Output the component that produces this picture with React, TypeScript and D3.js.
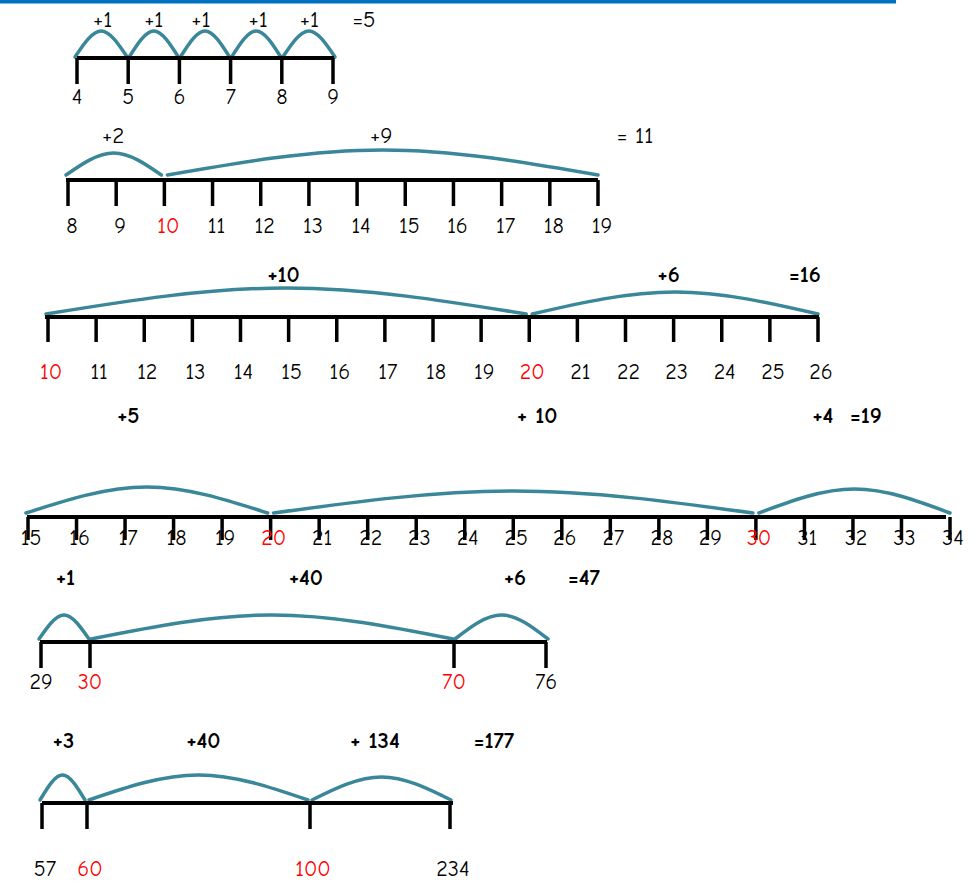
import React from "react";
import * as d3 from "d3";

// ---------- data ----------
const ticksA = [4, 5, 6, 7, 8, 9];
const jumpsA = [
  { from: 4, to: 5, text: "+1" },
  { from: 5, to: 6, text: "+1" },
  { from: 6, to: 7, text: "+1" },
  { from: 7, to: 8, text: "+1" },
  { from: 8, to: 9, text: "+1" },
];
const totalA = "=5";
const redA: number[] = [];

const ticksB = [8, 9, 10, 11, 12, 13, 14, 15, 16, 17, 18, 19];
const jumpsB = [
  { from: 8, to: 10, text: "+2" },
  { from: 10, to: 19, text: "+9" },
];
const totalB = "= 11";
const redB = [10];

const ticksC = [10, 11, 12, 13, 14, 15, 16, 17, 18, 19, 20, 21, 22, 23, 24, 25, 26];
const jumpsC = [
  { from: 10, to: 20, text: "+10" },
  { from: 20, to: 26, text: "+6" },
];
const totalC = "=16";
const redC = [10, 20];

const ticksD = [15, 16, 17, 18, 19, 20, 21, 22, 23, 24, 25, 26, 27, 28, 29, 30, 31, 32, 33, 34];
const jumpsD = [
  { from: 15, to: 20, text: "+5" },
  { from: 20, to: 30, text: "+ 10" },
  { from: 30, to: 34, text: "+4" },
];
const totalD = "=19";
const redD = [20, 30];

const ticksE = [29, 30, 70, 76];
const jumpsE = [
  { from: 29, to: 30, text: "+1" },
  { from: 30, to: 70, text: "+40" },
  { from: 70, to: 76, text: "+6" },
];
const totalE = "=47";
const redE = [30, 70];

const ticksF = [57, 60, 100, 234];
const jumpsF = [
  { from: 57, to: 60, text: "+3" },
  { from: 60, to: 100, text: "+40" },
  { from: 100, to: 234, text: "+ 134" },
];
const totalF = "=177";
const redF = [60, 100];

// ---------- layout ----------
type Jump = { from: number; to: number; text: string };
type LineCfg = {
  ticks: number[];
  jumps: Jump[];
  total: string;
  red: number[];
  range: number[];
  axisX: [number, number];
  axisY: number;
  tickLen: number;
  labelY: number;
  labelDx: number;
  labelSize: number;
  jumpY: number;
  jumpSize: number;
  jumpBold: boolean;
  jumpDx: number[];
  totalX: number;
  arcBase: number;
  arcPeak: number[];
  arcGap: number;
};

const FONT = "'Comic Sans MS', 'Comic Neue', 'DejaVu Sans', sans-serif";
const TEAL = "#3a8799";

const lines: LineCfg[] = [
  {
    ticks: ticksA, jumps: jumpsA, total: totalA, red: redA,
    range: [77, 333], axisX: [77, 334], axisY: 58, tickLen: 26,
    labelY: 97, labelDx: 0, labelSize: 22,
    jumpY: 19, jumpSize: 23, jumpBold: false, jumpDx: [0, 0, -4, 2, 2],
    totalX: 364, arcBase: 57, arcPeak: [31, 31, 31, 31, 31], arcGap: 1,
  },
  {
    ticks: ticksB, jumps: jumpsB, total: totalB, red: redB,
    range: [68, 598], axisX: [66, 598], axisY: 180, tickLen: 26,
    labelY: 226, labelDx: 4, labelSize: 22,
    jumpY: 135, jumpSize: 23, jumpBold: false, jumpDx: [-3, 0],
    totalX: 635, arcBase: 175, arcPeak: [153, 150], arcGap: 3,
  },
  {
    ticks: ticksC, jumps: jumpsC, total: totalC, red: redC,
    range: [48, 818], axisX: [45, 819], axisY: 317, tickLen: 25,
    labelY: 372, labelDx: 3, labelSize: 22,
    jumpY: 274, jumpSize: 23, jumpBold: true, jumpDx: [-5, -5],
    totalX: 805, arcBase: 314, arcPeak: [288, 292], arcGap: 3,
  },
  {
    ticks: ticksD, jumps: jumpsD, total: totalD, red: redD,
    range: [28, 950], axisX: [27, 946], axisY: 517, tickLen: 23,
    labelY: 538, labelDx: 3, labelSize: 22,
    jumpY: 415, jumpSize: 23, jumpBold: true, jumpDx: [-21, 24, -30],
    totalX: 866, arcBase: 513, arcPeak: [487, 491, 489], arcGap: 3,
  },
  {
    ticks: ticksE, jumps: jumpsE, total: totalE, red: redE,
    range: [41, 90, 454, 546], axisX: [40, 547], axisY: 642, tickLen: 26,
    labelY: 682, labelDx: 0, labelSize: 22,
    jumpY: 577, jumpSize: 23, jumpBold: true, jumpDx: [0, 34, 15],
    totalX: 584, arcBase: 639, arcPeak: [615, 615, 615], arcGap: 1,
  },
  {
    ticks: ticksF, jumps: jumpsF, total: totalF, red: redF,
    range: [42, 87, 310, 450], axisX: [42, 453], axisY: 803, tickLen: 26,
    labelY: 869, labelDx: 3, labelSize: 22,
    jumpY: 740, jumpSize: 23, jumpBold: true, jumpDx: [-1, 5, -5],
    totalX: 494, arcBase: 800, arcPeak: [775, 775, 777], arcGap: 2,
  },
];

function NumberLine({ cfg }: { cfg: LineCfg }) {
  const domain =
    cfg.range.length === 2
      ? [cfg.ticks[0], cfg.ticks[cfg.ticks.length - 1]]
      : cfg.ticks;
  const x = d3.scaleLinear().domain(domain).range(cfg.range);
  const arcLine = d3
    .line<[number, number]>()
    .x((d) => d[0])
    .y((d) => d[1])
    .curve(d3.curveNatural);
  const weight = cfg.jumpBold ? 700 : 400;
  return (
    <g>
      {cfg.jumps.map((j, i) => {
        const x0 = x(j.from) + (i === 0 ? -2 : cfg.arcGap);
        const x1 = x(j.to) - cfg.arcGap + (i === cfg.jumps.length - 1 ? 3 : 0);
        const pts: [number, number][] = [
          [x0, cfg.arcBase],
          [(x0 + x1) / 2, cfg.arcPeak[i]],
          [x1, cfg.arcBase],
        ];
        return (
          <path
            key={"a" + i}
            d={arcLine(pts) || ""}
            fill="none"
            stroke={TEAL}
            strokeWidth={3.5}
            strokeLinecap="round"
          />
        );
      })}
      <line
        x1={cfg.axisX[0]}
        x2={cfg.axisX[1]}
        y1={cfg.axisY}
        y2={cfg.axisY}
        stroke="#000"
        strokeWidth={4}
      />
      {cfg.ticks.map((t) => (
        <line
          key={"t" + t}
          x1={x(t)}
          x2={x(t)}
          y1={cfg.axisY}
          y2={cfg.axisY + cfg.tickLen}
          stroke="#000"
          strokeWidth={3.5}
        />
      ))}
      {cfg.ticks.map((t) => (
        <text
          key={"l" + t}
          x={x(t) + cfg.labelDx}
          y={cfg.labelY}
          textAnchor="middle"
          dominantBaseline="central"
          fontFamily={FONT}
          fontSize={cfg.labelSize}
          fill={cfg.red.includes(t) ? "#ff0000" : "#000"}
        >
          {t}
        </text>
      ))}
      {cfg.jumps.map((j, i) => (
        <text
          key={"j" + i}
          x={(x(j.from) + x(j.to)) / 2 + cfg.jumpDx[i]}
          y={cfg.jumpY}
          textAnchor="middle"
          dominantBaseline="central"
          fontFamily={FONT}
          fontSize={cfg.jumpSize}
          fontWeight={weight}
          fill="#000"
          style={{ whiteSpace: "pre" }}
        >
          {j.text}
        </text>
      ))}
      <text
        x={cfg.totalX}
        y={cfg.jumpY}
        textAnchor="middle"
        dominantBaseline="central"
        fontFamily={FONT}
        fontSize={cfg.jumpSize}
        fontWeight={weight}
        fill="#000"
        style={{ whiteSpace: "pre" }}
      >
        {cfg.total}
      </text>
    </g>
  );
}

export default function App() {
  return (
    <svg
      width={975}
      height={884}
      viewBox="0 0 975 884"
      style={{ position: "absolute", left: 0, top: 0, background: "#fff" }}
    >
      <rect x={0} y={0} width={896} height={3.5} fill="#0070c0" />
      {lines.map((cfg, i) => (
        <NumberLine key={i} cfg={cfg} />
      ))}
    </svg>
  );
}
